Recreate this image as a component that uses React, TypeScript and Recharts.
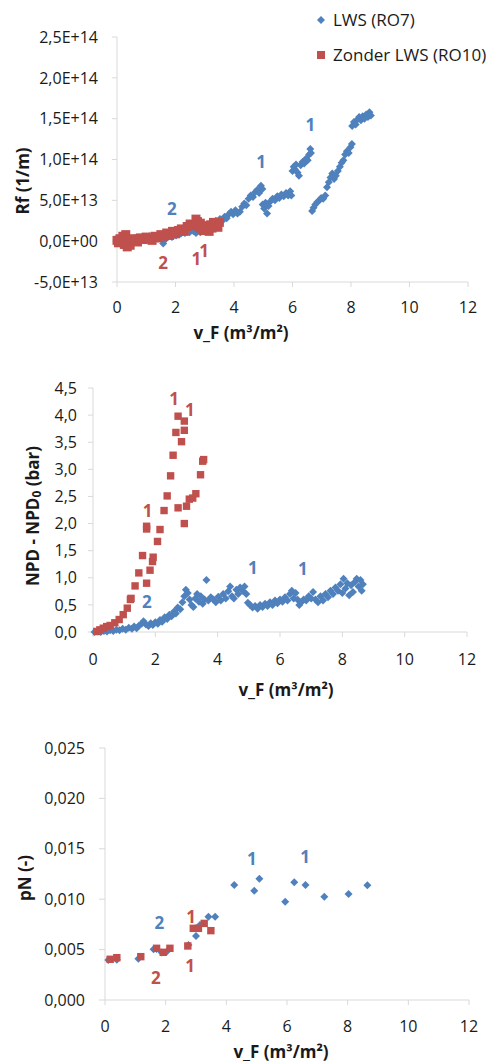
import React from 'react'
import { ScatterChart, Scatter, XAxis, YAxis, Legend, ReferenceDot } from 'recharts'

const BLUE = '#4F81BD'
const RED = '#C0504D'
const FONT = '"Open Sans", "DejaVu Sans", sans-serif'
const AXIS = '#d9d9d9'
const TEXT = '#1a1a1a'

const seriesNames = ['LWS (RO7)', 'Zonder LWS (RO10)']

const xTicks = [0, 2, 4, 6, 8, 10, 12]
const rfTicks = [-5e13, 0, 5e13, 1e14, 1.5e14, 2e14, 2.5e14]
const npdTicks = [0, 0.5, 1, 1.5, 2, 2.5, 3, 3.5, 4, 4.5]
const pnTicks = [0, 0.005, 0.01, 0.015, 0.02, 0.025]

// Rf (1/m) against filtered volume, with LWS
const rfLws: [number, number][] = [
  [0.02, 0.3e13], [0.1, -0.2e13], [0.18, -0.5e13], [0.25, 0.1e13], [0.32, -0.4e13], [0.4, 0.2e13],
  [0.48, -0.3e13], [0.55, 0.0], [0.62, 0.4e13], [0.7, -0.1e13], [0.78, 0.2e13], [0.86, 0.5e13],
  [0.95, 0.1e13], [1.02, 0.3e13], [1.1, 0.6e13], [1.2, 0.2e13], [1.3, 0.5e13], [1.4, 0.3e13],
  [1.5, 0.7e13], [1.58, -0.3e13], [1.65, 0.2e13], [1.72, 0.6e13], [1.8, 0.9e13], [1.88, 0.5e13],
  [1.95, 1.0e13], [2.02, 0.7e13], [2.1, 1.2e13], [2.18, 0.9e13], [2.25, 1.3e13], [2.32, 1.0e13],
  [2.4, 1.4e13], [2.48, 1.1e13], [2.55, 1.5e13], [2.62, 1.2e13], [2.7, 1.0e13], [2.78, 1.4e13],
  [2.85, 1.1e13], [2.92, 1.8e13], [3.0, 1.5e13], [3.08, 2.0e13], [3.15, 1.7e13], [3.22, 2.3e13],
  [3.3, 2.0e13], [3.38, 2.5e13], [3.45, 2.2e13], [3.52, 2.7e13], [3.6, 2.5e13], [3.68, 3.0e13],
  [3.75, 2.8e13], [3.82, 3.3e13], [3.9, 3.6e13], [3.97, 3.3e13], [4.05, 3.8e13], [4.12, 3.4e13],
  [4.2, 3.6e13], [4.28, 4.2e13], [4.35, 4.6e13], [4.42, 4.4e13], [4.5, 5.2e13], [4.57, 5.6e13],
  [4.65, 5.4e13], [4.72, 6.0e13], [4.8, 6.3e13], [4.86, 5.9e13], [4.92, 6.8e13], [4.97, 6.4e13],
  [4.98, 4.5e13], [5.03, 4.0e13], [5.08, 4.7e13], [5.13, 3.4e13], [5.18, 4.3e13], [5.25, 4.9e13],
  [5.32, 5.2e13], [5.4, 5.0e13], [5.48, 5.5e13], [5.55, 5.3e13], [5.62, 5.7e13], [5.7, 5.5e13],
  [5.78, 5.9e13], [5.85, 5.6e13], [5.92, 6.1e13], [5.96, 5.6e13], [6.0, 8.6e13], [6.04, 9.1e13],
  [6.08, 8.8e13], [6.12, 9.4e13], [6.17, 8.4e13], [6.22, 8.0e13], [6.28, 9.3e13], [6.34, 9.7e13],
  [6.4, 9.5e13], [6.46, 10.1e13], [6.52, 9.9e13], [6.57, 10.6e13], [6.61, 11.3e13], [6.63, 10.8e13],
  [6.67, 3.7e13], [6.72, 4.1e13], [6.78, 4.5e13], [6.85, 4.8e13], [6.92, 5.0e13], [6.98, 5.3e13],
  [7.05, 5.2e13], [7.12, 5.6e13], [7.18, 6.6e13], [7.24, 7.2e13], [7.3, 7.8e13], [7.36, 8.3e13],
  [7.42, 7.6e13], [7.48, 8.0e13], [7.55, 8.6e13], [7.62, 9.1e13], [7.68, 9.6e13], [7.74, 9.9e13],
  [7.8, 10.6e13], [7.86, 11.0e13], [7.92, 10.8e13], [7.98, 11.5e13], [8.03, 11.9e13], [8.04, 14.1e13],
  [8.1, 14.6e13], [8.16, 14.3e13], [8.22, 14.9e13], [8.28, 15.2e13], [8.34, 14.8e13], [8.4, 15.3e13],
  [8.46, 15.0e13], [8.52, 15.5e13], [8.58, 15.2e13], [8.63, 15.8e13], [8.68, 15.4e13],
]

// Rf (1/m) without LWS
const rfZonder: [number, number][] = [
  [0.0, 0.1e13], [0.05, -0.2e13], [0.1, 0.3e13], [0.15, 0.0], [0.2, 0.6e13], [0.25, -0.4e13],
  [0.3, 0.8e13], [0.35, -0.7e13], [0.4, 0.2e13], [0.45, -0.5e13], [0.5, 0.1e13], [0.6, 0.3e13],
  [0.7, -0.1e13], [0.8, 0.4e13], [0.9, 0.2e13], [1.0, 0.5e13], [1.1, 0.3e13], [1.2, 0.1e13],
  [1.3, 0.6e13], [1.4, 0.4e13], [1.5, 0.8e13], [1.6, 0.6e13], [1.7, 1.0e13], [1.8, 0.7e13],
  [1.9, 1.2e13], [2.0, 0.9e13], [2.1, 1.3e13], [2.2, 1.5e13], [2.3, 1.2e13], [2.4, 1.8e13],
  [2.5, 2.1e13], [2.6, 1.9e13], [2.7, 2.7e13], [2.75, 2.4e13], [2.8, 1.7e13], [2.85, 2.2e13],
  [2.9, 1.5e13], [2.95, 1.3e13], [3.0, 1.9e13], [3.05, 1.4e13], [3.1, 1.7e13], [3.15, 1.2e13],
  [3.2, 2.0e13], [3.25, 1.6e13], [3.3, 2.3e13], [3.35, 1.8e13], [3.4, 2.1e13], [3.45, 1.7e13],
  [3.5, 2.3e13],
]

// NPD - NPD0 (bar), with LWS
const npdLws: [number, number][] = [
  [0.05, 0.0], [0.15, 0.01], [0.25, 0.0], [0.35, 0.02], [0.45, 0.01], [0.55, 0.03], [0.65, 0.02],
  [0.75, 0.04], [0.85, 0.03], [0.95, 0.06], [1.05, 0.04], [1.15, 0.08], [1.25, 0.06], [1.32, 0.1],
  [1.4, 0.07], [1.48, 0.12], [1.56, 0.15], [1.62, 0.2], [1.7, 0.14], [1.78, 0.11], [1.85, 0.16],
  [1.92, 0.13], [2.0, 0.18], [2.08, 0.15], [2.15, 0.22], [2.22, 0.19], [2.3, 0.27], [2.38, 0.24],
  [2.45, 0.32], [2.52, 0.29], [2.6, 0.38], [2.66, 0.34], [2.72, 0.45], [2.8, 0.42], [2.87, 0.55],
  [2.93, 0.66], [2.98, 0.78], [3.04, 0.72], [3.1, 0.6], [3.16, 0.5], [3.22, 0.46], [3.28, 0.62],
  [3.34, 0.7], [3.4, 0.56], [3.46, 0.66], [3.52, 0.52], [3.58, 0.6], [3.64, 0.96], [3.7, 0.58],
  [3.78, 0.64], [3.86, 0.6], [3.94, 0.55], [4.02, 0.65], [4.1, 0.58], [4.18, 0.7], [4.26, 0.62],
  [4.34, 0.75], [4.4, 0.84], [4.46, 0.66], [4.52, 0.62], [4.6, 0.78], [4.66, 0.7], [4.72, 0.82],
  [4.8, 0.76], [4.86, 0.84], [4.92, 0.7], [4.97, 0.54], [5.04, 0.5], [5.12, 0.45], [5.2, 0.48],
  [5.28, 0.43], [5.36, 0.5], [5.44, 0.46], [5.52, 0.52], [5.6, 0.48], [5.68, 0.55], [5.76, 0.5],
  [5.84, 0.58], [5.92, 0.53], [6.0, 0.6], [6.08, 0.56], [6.16, 0.64], [6.24, 0.58], [6.32, 0.7],
  [6.38, 0.76], [6.44, 0.62], [6.5, 0.72], [6.56, 0.6], [6.62, 0.5], [6.68, 0.55], [6.76, 0.6],
  [6.84, 0.58], [6.92, 0.66], [7.0, 0.62], [7.06, 0.74], [7.14, 0.6], [7.22, 0.55], [7.3, 0.66],
  [7.38, 0.58], [7.46, 0.7], [7.54, 0.64], [7.62, 0.76], [7.7, 0.7], [7.78, 0.82], [7.86, 0.76],
  [7.94, 0.88], [8.0, 0.72], [8.04, 0.98], [8.1, 0.8], [8.16, 0.9], [8.22, 0.68], [8.28, 0.86],
  [8.34, 0.74], [8.4, 0.92], [8.46, 0.98], [8.52, 0.84], [8.58, 0.96], [8.62, 0.76], [8.66, 0.88],
]

// NPD - NPD0 (bar), without LWS
const npdZonder: [number, number][] = [
  [0.12, 0.01], [0.22, 0.04], [0.33, 0.07], [0.44, 0.1], [0.55, 0.12], [0.7, 0.17], [0.84, 0.23],
  [0.97, 0.32], [1.1, 0.44], [1.2, 0.6], [1.22, 0.62], [1.35, 0.85], [1.47, 1.09], [1.59, 1.41],
  [1.72, 0.9], [1.83, 1.14], [1.91, 1.3], [1.93, 1.38], [1.72, 1.9], [1.72, 1.95], [2.07, 1.67],
  [2.15, 1.89], [2.28, 2.24], [2.38, 2.51], [2.49, 2.88], [2.57, 3.26], [2.66, 3.68], [2.73, 3.98],
  [2.93, 3.89], [2.93, 3.72], [2.84, 3.51], [2.73, 2.29], [2.93, 2.0], [3.0, 2.32], [3.09, 2.45],
  [3.2, 2.47], [3.3, 2.55], [3.45, 2.9], [3.52, 3.15], [3.55, 3.18],
]

// pN (-), with LWS
const pnLws: [number, number][] = [
  [0.11, 0.00397], [0.39, 0.004], [1.1, 0.0041], [1.6, 0.00503], [1.7, 0.00506], [1.87, 0.0047],
  [2.04, 0.0048], [2.75, 0.00546], [3.0, 0.00635], [3.13, 0.00744], [3.41, 0.00827], [3.63, 0.00827],
  [4.26, 0.0114], [4.92, 0.01085], [5.09, 0.01204], [5.94, 0.00975], [6.24, 0.01168], [6.61, 0.0114],
  [7.23, 0.01025], [8.03, 0.01052], [8.65, 0.01138],
]

// pN (-), without LWS
const pnZonder: [number, number][] = [
  [0.17, 0.00404], [0.39, 0.0042], [1.18, 0.0043], [1.7, 0.00513], [1.92, 0.00473], [2.14, 0.00513],
  [2.73, 0.00536], [2.91, 0.00711], [3.08, 0.00711], [3.27, 0.0076], [3.49, 0.00688],
]

type Note = { x: number; y: number; text: string; color: string }

const rfNotes: Note[] = [
  { x: 1.88, y: 4.0e13, text: '2', color: BLUE },
  { x: 4.93, y: 9.8e13, text: '1', color: BLUE },
  { x: 6.61, y: 14.3e13, text: '1', color: BLUE },
  { x: 1.58, y: -2.6e13, text: '2', color: RED },
  { x: 2.71, y: -2.1e13, text: '1', color: RED },
  { x: 2.98, y: -1.1e13, text: '1', color: RED },
]

const npdNotes: Note[] = [
  { x: 2.6, y: 4.3, text: '1', color: RED },
  { x: 3.11, y: 4.1, text: '1', color: RED },
  { x: 1.75, y: 2.24, text: '1', color: RED },
  { x: 1.73, y: 0.56, text: '2', color: BLUE },
  { x: 5.13, y: 1.19, text: '1', color: BLUE },
  { x: 6.73, y: 1.17, text: '1', color: BLUE },
]

const pnNotes: Note[] = [
  { x: 1.79, y: 0.0077, text: '2', color: BLUE },
  { x: 2.84, y: 0.00826, text: '1', color: RED },
  { x: 2.81, y: 0.0034, text: '1', color: RED },
  { x: 1.68, y: 0.00225, text: '2', color: RED },
  { x: 4.84, y: 0.01406, text: '1', color: BLUE },
  { x: 6.6, y: 0.01422, text: '1', color: BLUE },
]

const toPoints = (rows: [number, number][]) => rows.map(([x, y]) => ({ x, y }))

const sciLabel = (v: number) => {
  if (v === 0) return '0,0E+00'
  const e = Math.floor(Math.log10(Math.abs(v)))
  const m = v / Math.pow(10, e)
  return `${m.toFixed(1).replace('.', ',')}E+${e}`
}
const comma = (digits: number) => (v: number) => v.toFixed(digits).replace('.', ',')

const diamond = (r: number) => (props: any) => {
  const { cx, cy } = props
  return <path d={`M${cx},${cy - r}L${cx + r},${cy}L${cx},${cy + r}L${cx - r},${cy}Z`} fill={BLUE} />
}
const square = (h: number) => (props: any) => {
  const { cx, cy } = props
  return <rect x={cx - h} y={cy - h} width={2 * h} height={2 * h} fill={RED} />
}

const noteShape = (n: Note) => (props: any) => (
  <text x={props.cx} y={props.cy} textAnchor="middle" dominantBaseline="central"
    fontFamily={FONT} fontWeight="bold" fontSize={17} fill={n.color}>{n.text}</text>
)

function XTitle({ px, py }: { px: number; py: number }) {
  return (
    <text x={px} y={py} textAnchor="middle" dominantBaseline="central"
      fontFamily={FONT} fontWeight="bold" fontSize={17} fill={TEXT}>
      v_F (m³/m²)
    </text>
  )
}

function YTitle({ px, py, children }: { px: number; py: number; children: React.ReactNode }) {
  return (
    <text x={px} y={py} transform={`rotate(-90, ${px}, ${py})`} textAnchor="middle"
      dominantBaseline="central" fontFamily={FONT} fontWeight="bold" fontSize={17} fill={TEXT}>
      {children}
    </text>
  )
}

const tickStyle = { fontFamily: FONT, fontSize: 16, fill: TEXT }

function LegendBox() {
  const row = { display: 'flex', alignItems: 'center', height: 35 }
  return (
    <div style={{ fontFamily: FONT, fontSize: 17, color: TEXT, lineHeight: 1 }}>
      <div style={row}>
        <svg width={14} height={14} style={{ marginRight: 5 }}>
          <path d="M7,3L11,7L7,11L3,7Z" fill={BLUE} />
        </svg>
        {seriesNames[0]}
      </div>
      <div style={row}>
        <svg width={14} height={14} style={{ marginRight: 5 }}>
          <rect x={3} y={3} width={8} height={8} fill={RED} />
        </svg>
        {seriesNames[1]}
      </div>
    </div>
  )
}

export default function App() {
  const box = (top: number, height: number): React.CSSProperties => ({
    position: 'absolute', left: 0, top, width: 494, height,
  })

  return (
    <div style={{ position: 'absolute', left: 0, top: 0, width: 494, height: 1061, background: '#fff' }}>
      {/* Rf */}
      <div style={box(0, 345)}>
        <ScatterChart width={494} height={345} margin={{ top: 37, right: 26, bottom: 8, left: 0 }}>
          <XAxis type="number" dataKey="x" domain={[0, 12]} ticks={xTicks} interval={0} height={55}
            stroke={AXIS} tickLine={{ stroke: AXIS }} tickSize={5} tickMargin={15} tick={tickStyle}
            label={<XTitle px={241} py={332} />} />
          <YAxis type="number" dataKey="y" domain={[-5e13, 2.5e14]} ticks={rfTicks} interval={0} width={117}
            stroke={AXIS} tickLine={{ stroke: AXIS }} tickSize={5} tickMargin={14} tick={tickStyle}
            tickFormatter={sciLabel} label={<YTitle px={22} py={181}>Rf (1/m)</YTitle>} />
          <Scatter name={seriesNames[0]} data={toPoints(rfLws)} fill={BLUE} shape={diamond(4)} isAnimationActive={false} />
          <Scatter name={seriesNames[1]} data={toPoints(rfZonder)} fill={RED} shape={square(4.5)} isAnimationActive={false} />
          {rfNotes.map((n, i) => (
            <ReferenceDot key={i} x={n.x} y={n.y} r={0} shape={noteShape(n)} />
          ))}
          <Legend layout="vertical" align="center" verticalAlign="middle" content={<LegendBox />}
            wrapperStyle={{ top: 2, left: 314, width: 180 }} />
        </ScatterChart>
      </div>

      {/* NPD - NPD0 */}
      <div style={box(360, 345)}>
        <ScatterChart width={494} height={345} margin={{ top: 28, right: 27, bottom: 18, left: 0 }}>
          <XAxis type="number" dataKey="x" domain={[0, 12]} ticks={xTicks} interval={0} height={55}
            stroke={AXIS} tickLine={{ stroke: AXIS }} tickSize={5} tickMargin={17} tick={tickStyle}
            label={<XTitle px={286} py={329} />} />
          <YAxis type="number" dataKey="y" domain={[0, 4.5]} ticks={npdTicks} interval={0} width={93}
            stroke={AXIS} tickLine={{ stroke: AXIS }} tickSize={5} tickMargin={11} tick={tickStyle}
            tickFormatter={comma(1)}
            label={
              <YTitle px={32} py={156}>
                <tspan>NPD - NPD</tspan>
                <tspan dy={4} fontSize={12}>0</tspan>
                <tspan dy={-4}> (bar)</tspan>
              </YTitle>
            } />
          <Scatter name={seriesNames[0]} data={toPoints(npdLws)} fill={BLUE} shape={diamond(4)} isAnimationActive={false} />
          <Scatter name={seriesNames[1]} data={toPoints(npdZonder)} fill={RED} shape={square(3.7)} isAnimationActive={false} />
          {npdNotes.map((n, i) => (
            <ReferenceDot key={i} x={n.x} y={n.y} r={0} shape={noteShape(n)} />
          ))}
        </ScatterChart>
      </div>

      {/* pN */}
      <div style={box(720, 341)}>
        <ScatterChart width={494} height={341} margin={{ top: 28, right: 25, bottom: 6, left: 0 }}>
          <XAxis type="number" dataKey="x" domain={[0, 12]} ticks={xTicks} interval={0} height={55}
            stroke={AXIS} tickLine={{ stroke: AXIS }} tickSize={5} tickMargin={16} tick={tickStyle}
            label={<XTitle px={281} py={331} />} />
          <YAxis type="number" dataKey="y" domain={[0, 0.025]} ticks={pnTicks} interval={0} width={105}
            stroke={AXIS} tickLine={{ stroke: AXIS }} tickSize={6} tickMargin={14} tick={tickStyle}
            tickFormatter={comma(3)} label={<YTitle px={24} py={158}>pN (-)</YTitle>} />
          <Scatter name={seriesNames[0]} data={toPoints(pnLws)} fill={BLUE} shape={diamond(4)} isAnimationActive={false} />
          <Scatter name={seriesNames[1]} data={toPoints(pnZonder)} fill={RED} shape={square(3.7)} isAnimationActive={false} />
          {pnNotes.map((n, i) => (
            <ReferenceDot key={i} x={n.x} y={n.y} r={0} shape={noteShape(n)} />
          ))}
        </ScatterChart>
      </div>
    </div>
  )
}
